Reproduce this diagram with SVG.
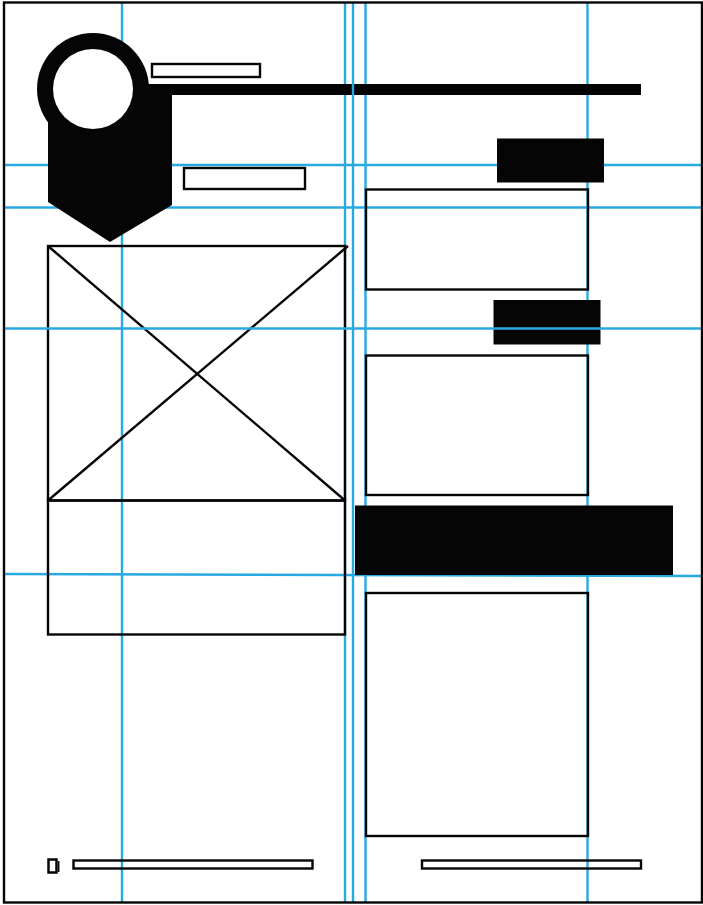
<svg xmlns="http://www.w3.org/2000/svg" width="703" height="905" viewBox="0 0 703 905">
<style>
.guide{stroke:#29a9e1;stroke-width:2.4;fill:none}
.out{fill:none;stroke:#050505;stroke-width:2.4}
.blk{fill:#050505;stroke:none}
</style>
<rect width="703" height="905" fill="#ffffff"/>
<g id="guides">
<line class="guide" x1="122" y1="3" x2="122" y2="902"/>
<line class="guide" x1="345" y1="3" x2="345" y2="902"/>
<line class="guide" x1="365.5" y1="3" x2="365.5" y2="902"/>
<line class="guide" x1="587.5" y1="3" x2="587.5" y2="902"/>
<line class="guide" x1="4" y1="165" x2="702" y2="165"/>
<line class="guide" x1="4" y1="207.5" x2="702" y2="207.5"/>
<line class="guide" x1="4" y1="574" x2="702" y2="576"/>
</g>
<g id="logo">
<circle class="blk" cx="93" cy="89" r="56"/>
<polygon class="blk" points="48,89 148,84 641,84 641,95 172,95 172,205 110,242 48,202"/>
<circle cx="93" cy="89" r="40" fill="#ffffff"/>
</g>
<g id="title-box"><rect class="out" x="152" y="64" width="108" height="13" fill="#ffffff"/></g>
<g id="subtitle-box"><rect class="out" x="184" y="168" width="121" height="21" fill="#ffffff"/></g>
<g id="image-placeholder">
<rect class="out" x="48" y="246" width="297" height="254.5"/>
<line class="out" x1="48" y1="246" x2="345" y2="500.5"/>
<line class="out" x1="48" y1="500.5" x2="348" y2="246"/>
</g>
<g id="caption-box"><rect class="out" x="48" y="500.5" width="297" height="134"/></g>
<g id="label-1"><rect class="blk" x="497" y="138.5" width="107" height="44"/></g>
<g id="panel-a"><rect class="out" x="366" y="189.5" width="222" height="100"/></g>
<g id="label-2"><rect class="blk" x="493.5" y="300" width="107" height="44.5"/></g>
<g id="panel-b"><rect class="out" x="366" y="355.5" width="222" height="139.5"/></g>
<g id="banner"><rect class="blk" x="355" y="505.5" width="318" height="69.5"/></g>
<g id="panel-c"><rect class="out" x="366" y="593" width="222" height="243"/></g>
<g id="footer-icon">
<rect x="48.5" y="859.5" width="8" height="13" fill="none" stroke="#050505" stroke-width="2.5"/>
<line x1="58.7" y1="861" x2="58.7" y2="872" stroke="#050505" stroke-width="1.5"/>
</g>
<g id="footer-left"><rect class="out" x="73.5" y="860.5" width="239" height="8"/></g>
<g id="footer-right"><rect class="out" x="422" y="860.5" width="219" height="8"/></g>
<g id="guides-top">
<line class="guide" x1="353" y1="3" x2="353" y2="902"/>
<line class="guide" x1="4" y1="328.5" x2="702" y2="328.5"/>
</g>
<rect x="4" y="2.5" width="698" height="900" fill="none" stroke="#050505" stroke-width="2.4"/>
</svg>
